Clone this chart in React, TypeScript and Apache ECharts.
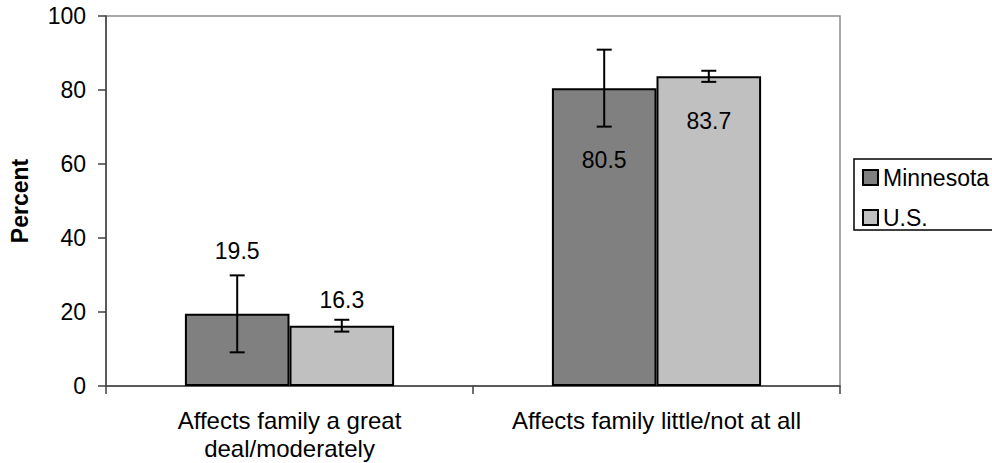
import { useEffect, useRef } from "react";
import * as echarts from "echarts";

// Family impact, Minnesota vs. U.S. (percent, with error margins)
const categories = ["Affects family a great\ndeal/moderately", "Affects family little/not at all"];
const seriesNames = ["Minnesota", "U.S."];
const minnesota = [19.5, 80.5];
const us = [16.3, 83.7];
const minnesotaErr = [10.4, 10.4];
const usErr = [1.6, 1.5];

// Where each value label sits, px from the bar top (hand-placed in the source chart).
const MN_LABEL_DY = [-63, 72];
const US_LABEL_DY = [-26, 45];

const FONT = "'Liberation Sans', Arial, sans-serif";
const GAP = 0.43; // barCategoryGap

function errorSeries(name: string, values: number[], errs: number[], side: number) {
  return {
    type: "custom",
    name: name + " error",
    z: 10,
    silent: true,
    data: values.map((v, i) => [i, v - errs[i]!, v + errs[i]!]),
    renderItem: (_p: unknown, api: any) => {
      const x = api.value(0);
      const lo = api.coord([x, api.value(1)]);
      const hi = api.coord([x, api.value(2)]);
      const band = api.size([1, 0])[0];
      const barW = (band * (1 - GAP)) / 2;
      const cx = lo[0] + (side * barW) / 2;
      const cap = 7.5;
      const style = { stroke: "#000", lineWidth: 2 };
      return {
        type: "group",
        children: [
          { type: "line", shape: { x1: cx, y1: lo[1], x2: cx, y2: hi[1] }, style },
          { type: "line", shape: { x1: cx - cap, y1: lo[1], x2: cx + cap, y2: lo[1] }, style },
          { type: "line", shape: { x1: cx - cap, y1: hi[1], x2: cx + cap, y2: hi[1] }, style },
        ],
      };
    },
  };
}

function barData(values: number[], dys: number[]) {
  return values.map((v, i) => ({
    value: v,
    label: {
      show: true,
      position: ["50%", dys[i]],
      align: "center",
      verticalAlign: "middle",
      formatter: v.toFixed(1),
      color: "#000",
      fontSize: 23,
      fontFamily: FONT,
    },
  }));
}

export default function App() {
  const elRef = useRef<HTMLDivElement | null>(null);

  useEffect(() => {
    document.body.style.margin = "0";
    if (!elRef.current) return;
    const chart = echarts.init(elRef.current, undefined, { renderer: "svg" });
    chart.setOption({
      animation: false,
      backgroundColor: "#fff",
      textStyle: { fontFamily: FONT, color: "#000" },
      grid: {
        left: 105,
        right: 152,
        top: 16,
        bottom: 77,
        show: true,
        borderColor: "#8c8c8c",
        borderWidth: 1.5,
        backgroundColor: "transparent",
      },
      // legend frame runs off the right edge, as in the source image
      graphic: [
        {
          type: "rect",
          shape: { x: 854, y: 159, width: 160, height: 71 },
          style: { fill: "none", stroke: "#000", lineWidth: 1.5 },
          silent: true,
        },
      ],
      legend: {
        orient: "vertical",
        left: 854,
        top: 159,
        data: seriesNames,
        padding: [7, 4, 3, 8],
        itemGap: 17,
        itemWidth: 15,
        itemHeight: 15,
        icon: "rect",
        textStyle: { fontSize: 23, fontFamily: FONT, color: "#000" },
        itemStyle: { borderColor: "#000", borderWidth: 2 },
      },
      xAxis: {
        type: "category",
        data: categories,
        axisLine: { lineStyle: { color: "#404040", width: 1.5 } },
        axisTick: { show: true, length: 8, lineStyle: { color: "#404040", width: 1.5 } },
        axisLabel: { interval: 0, margin: 20, fontSize: 24, lineHeight: 28, color: "#000", fontFamily: FONT },
      },
      yAxis: {
        type: "value",
        min: 0,
        max: 100,
        interval: 20,
        name: "Percent",
        nameLocation: "middle",
        nameRotate: 90,
        nameGap: 75,
        nameTextStyle: { fontSize: 23, fontWeight: "bold", color: "#000", fontFamily: FONT },
        splitLine: { show: false },
        axisLine: { show: true, lineStyle: { color: "#404040", width: 1.5 } },
        axisTick: { show: true, length: 8, lineStyle: { color: "#404040", width: 1.5 } },
        axisLabel: { margin: 20, fontSize: 23, color: "#000", fontFamily: FONT },
      },
      series: [
        {
          type: "bar",
          name: seriesNames[0],
          data: barData(minnesota, MN_LABEL_DY),
          barGap: "0%",
          barCategoryGap: GAP * 100 + "%",
          itemStyle: { color: "#808080", borderColor: "#000", borderWidth: 2 },
        },
        {
          type: "bar",
          name: seriesNames[1],
          data: barData(us, US_LABEL_DY),
          barGap: "0%",
          barCategoryGap: GAP * 100 + "%",
          itemStyle: { color: "#c0c0c0", borderColor: "#000", borderWidth: 2 },
        },
        errorSeries(seriesNames[0]!, minnesota, minnesotaErr, -1),
        errorSeries(seriesNames[1]!, us, usErr, 1),
      ],
    });
    return () => chart.dispose();
  }, []);

  return <div ref={elRef} style={{ width: 992, height: 463 }} />;
}
